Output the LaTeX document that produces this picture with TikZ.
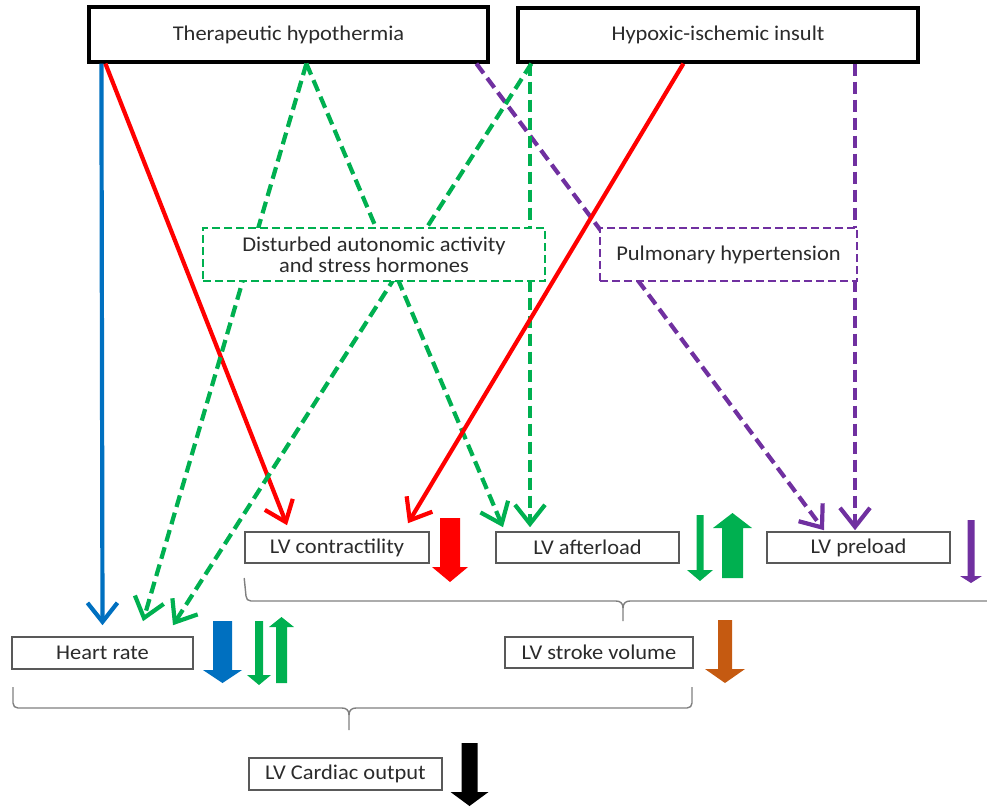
\documentclass[tikz,border=0pt]{standalone}
\usepackage{fontspec}
\setmainfont{Carlito}[FakeStretch=1.07]
\usetikzlibrary{arrows.meta,calc}

\definecolor{cblue}{HTML}{0070C0}
\definecolor{cred}{HTML}{FF0000}
\definecolor{cgreen}{HTML}{00B050}
\definecolor{cpurple}{HTML}{7030A0}
\definecolor{corange}{HTML}{C55A11}
\definecolor{ctext}{HTML}{2B2B2B}
\definecolor{cbrace}{HTML}{7F7F7F}

% filled block arrow: colour, centre x, tail y, head base y, tip y, shaft half width, head half width
\newcommand\blockarrow[7]{%
  \fill[#1] ({#2-#6},#3) -- ({#2+#6},#3) -- ({#2+#6},#4) -- ({#2+#7},#4)
    -- (#2,#5) -- ({#2-#7},#4) -- ({#2-#6},#4) -- cycle;}

\begin{document}
\begin{tikzpicture}[x=1pt,y=-1pt,
  every node/.style={font=\fontsize{21}{22}\selectfont, text=ctext, align=center, inner sep=0pt},
  topbox/.style={draw=black, line width=3.2pt, fill=white},
  midbox/.style={draw=#1, line width=2.8pt, fill=white, dash pattern=on 8pt off 4pt},
  lowbox/.style={draw=black!65, line width=1.6pt, fill=white},
  link/.style={draw=#1, line width=4.2pt,
    -{Straight Barb[length=19pt,width=30pt]}},
  dlink/.style={link=#1, dash pattern=on 12pt off 6pt},
  bracket/.style={draw=cbrace, line width=1.4pt}]

\useasboundingbox (0,0) rectangle (987,806);
\clip (0,0) rectangle (987,806);

% causes
\node[topbox, minimum width=399pt, minimum height=55pt] (therapy) at (288.5,34.5) {Therapeutic hypothermia};
\node[topbox, minimum width=400pt, minimum height=54pt] (insult) at (718,35) {Hypoxic-ischemic insult};

% determinants
\node[lowbox, minimum width=184pt, minimum height=31pt] (contr) at (337,547.5) {LV contractility};
\node[lowbox, minimum width=183pt, minimum height=31pt] (after) at (587.5,547.5) {LV afterload};
\node[lowbox, minimum width=183pt, minimum height=31pt] (preload) at (858.5,547.5) {LV preload};
\node[lowbox, minimum width=181pt, minimum height=32pt] (hr) at (102.5,653) {Heart rate};
\node[lowbox, minimum width=188pt, minimum height=31pt] (sv) at (599,652.5) {LV stroke volume};
\node[lowbox, minimum width=193pt, minimum height=32pt] (co) at (345.5,774) {LV Cardiac output};

% arrow tips above the determinants
\coordinate (hrA) at ([yshift=11pt]hr.north);
\coordinate (hrB) at ([xshift=40.5pt,yshift=15pt]hr.north);
\coordinate (hrC) at ([xshift=70.5pt,yshift=11pt]hr.north);
\coordinate (ctA) at ([xshift=-50pt,yshift=6pt]contr.north);
\coordinate (ctB) at ([xshift=71pt,yshift=8pt]contr.north);
\coordinate (afA) at ([xshift=-84.5pt,yshift=4pt]after.north);
\coordinate (afB) at ([xshift=-57.5pt,yshift=4pt]after.north);
\coordinate (plA) at ([xshift=-34.5pt,yshift=1pt]preload.north);
\coordinate (plB) at ([xshift=-3.5pt,yshift=1pt]preload.north);

% effects of therapeutic hypothermia
\draw[link=cblue] ([xshift=14pt]therapy.south west) -- (hrA);
\draw[link=cred] ([xshift=18pt]therapy.south west) -- (ctA);
\draw[dlink=cgreen] ([xshift=219pt]therapy.south west) -- (hrB);
\draw[dlink=cgreen] ([xshift=219pt]therapy.south west) -- (afA);
\draw[dlink=cpurple] ([xshift=389pt]therapy.south west) -- (plA);

% effects of the hypoxic-ischemic insult
\draw[dlink=cgreen] ([xshift=15pt]insult.south west) -- (hrC);
\draw[dlink=cgreen] (insult.south west -| afB) -- (afB);
\draw[link=cred] ([xshift=167pt]insult.south west) -- (ctB);
\draw[dlink=cpurple] (insult.south west -| plB) -- (plB);

% mediators
\node[midbox=cgreen, minimum width=342pt, minimum height=53pt] (auto) at (374,254.5)
  {Disturbed autonomic activity\\[-1pt]and stress hormones};
\node[midbox=cpurple, minimum width=257pt, minimum height=53pt] (pulm) at (728.5,254.5)
  {Pulmonary hypertension};

% direction of change
\blockarrow{cred}{450}{518}{567}{582}{10}{18}
\blockarrow{cgreen}{700}{515}{570}{581}{3.5}{13}
\blockarrow{cgreen}{732.5}{578}{528}{513}{10.5}{19.5}
\blockarrow{cpurple}{971}{520}{576}{583}{3.5}{11}
\blockarrow{cblue}{222.5}{621}{670}{683}{9.5}{19.5}
\blockarrow{cgreen}{259}{621}{675}{685}{4}{12}
\blockarrow{cgreen}{281.5}{683}{627}{617}{5.5}{12.5}
\blockarrow{corange}{725}{620}{669}{683}{7}{20}
\blockarrow{black}{469.5}{743}{792}{806}{8}{19}

% brace: contractility, afterload, preload -> stroke volume
\draw[bracket] (contr.south west |- 0,578) -- (246,596)
  .. controls (246,599) and (248,601) .. (251,601) -- (616,601)
  .. controls (620,601) and (623,603) .. (623,608) -- (623,621);
\draw[bracket] (623,608) .. controls (623,603) and (626,601) .. (630,601) -- (1000,601);

% brace: heart rate, stroke volume -> cardiac output
\draw[bracket] (13,687) -- (13,703)
  .. controls (13,706) and (15,708) .. (18,708) -- (342,708)
  .. controls (346,708) and (349,710) .. (349,715) -- (349,730);
\draw[bracket] (349,715) .. controls (349,710) and (352,708) .. (356,708) -- (687,708)
  .. controls (690,708) and (692,706) .. (692,703) -- (692,687);
\end{tikzpicture}
\end{document}
